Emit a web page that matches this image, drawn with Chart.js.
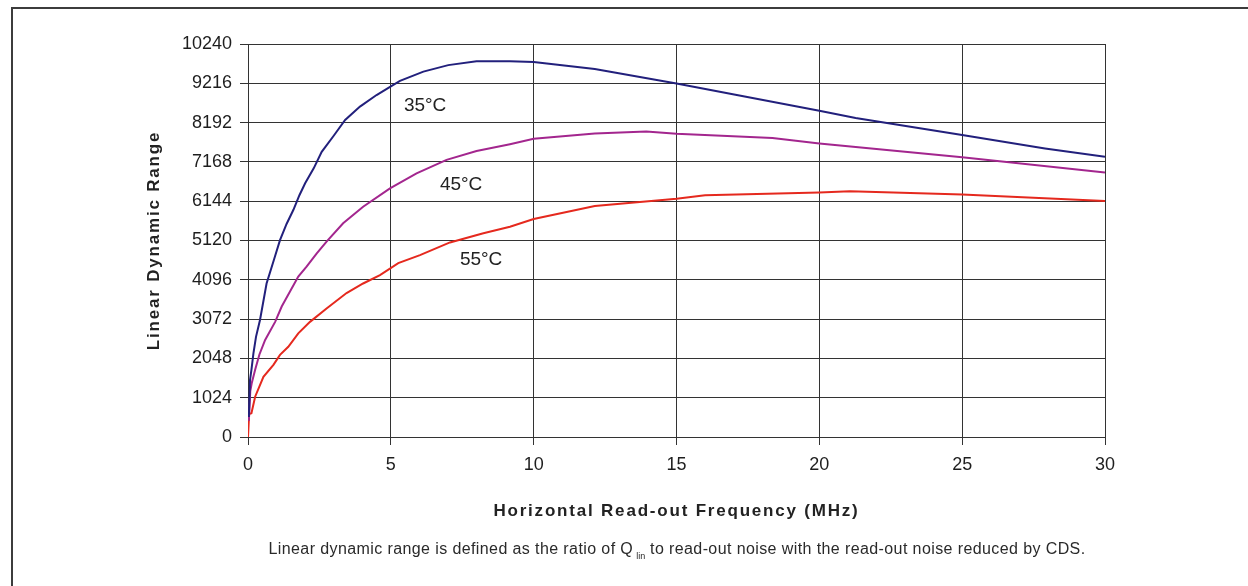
<!DOCTYPE html>
<html>
<head>
<meta charset="utf-8">
<script src="https://cdn.jsdelivr.net/npm/chart.js@4.4.1/dist/chart.umd.min.js"></script>
<style>
  html, body { margin: 0; padding: 0; background: #fff; }
  body { width: 1248px; height: 586px; position: relative; overflow: hidden; font-family: "Liberation Sans", Arial, sans-serif; }
  #frame { position: absolute; left: 11px; top: 7px; width: 1300px; height: 600px; border-top: 2px solid #3c3c3c; border-left: 2px solid #3c3c3c; }
  #wrap { position: absolute; left: 0; top: 0; width: 1248px; height: 586px; }
  #note { position: absolute; left: 677px; top: 541px; transform: translateX(-50%); white-space: nowrap; font-size: 16px; line-height: 16px; letter-spacing: 0.4px; color: #2a2a2a; }
  #note .sub { font-size: 9px; position: relative; top: 5px; margin-left: 3px; letter-spacing: 0; }
</style>
</head>
<body>
<div id="frame"></div>
<div id="wrap"><canvas id="myChart"></canvas></div>
<div id="note">Linear dynamic range is defined as the ratio of Q<span class="sub">lin</span> to read-out noise with the read-out noise reduced by CDS.</div>
<script>
// data
const freq35 = [0.03, 0.07, 0.12, 0.19, 0.28, 0.42, 0.65, 0.9, 1.12, 1.35, 1.59, 1.8, 2.0, 2.3, 2.58, 3.0, 3.4, 3.92, 4.5, 5.03, 5.32, 6.14, 7.01, 8.0, 9.17, 10.0, 12.14, 15, 20, 21.27, 25, 27.9, 30];
const ldr35 = [520, 1480, 1750, 2180, 2610, 3050, 4000, 4600, 5130, 5550, 5920, 6300, 6610, 7000, 7430, 7850, 8260, 8610, 8910, 9150, 9280, 9520, 9690, 9790, 9790, 9770, 9590, 9210, 8500, 8310, 7870, 7520, 7300];

const freq45 = [0.03, 0.08, 0.13, 0.25, 0.4, 0.6, 0.95, 1.18, 1.47, 1.76, 2.05, 2.4, 2.75, 3.33, 4.03, 4.97, 5.9, 6.95, 8.0, 9.17, 10.0, 12.14, 13.94, 15, 18.36, 20, 25, 30];
const ldr45 = [420, 1200, 1400, 1750, 2150, 2530, 3000, 3400, 3790, 4180, 4440, 4780, 5090, 5570, 6000, 6480, 6870, 7220, 7450, 7630, 7770, 7910, 7960, 7900, 7790, 7650, 7290, 6890];

const freq55 = [0, 0.04, 0.12, 0.25, 0.54, 0.89, 1.12, 1.41, 1.76, 2.17, 2.75, 3.45, 4.03, 4.62, 5.26, 6.02, 7.07, 8.24, 9.17, 10.0, 12.14, 15, 16, 20, 21.07, 25, 30];
const ldr55 = [0, 600, 620, 1050, 1570, 1880, 2140, 2350, 2700, 3000, 3350, 3750, 4000, 4220, 4530, 4740, 5070, 5310, 5480, 5680, 6020, 6210, 6300, 6370, 6400, 6320, 6150];

const xTickValues = [0, 5, 10, 15, 20, 25, 30];
const yTickValues = [0, 1024, 2048, 3072, 4096, 5120, 6144, 7168, 8192, 9216, 10240];

const tempLabels = ["35°C", "45°C", "55°C"];
const tempLabelX = [6.2, 7.46, 8.16];
const tempLabelY = [8626, 6567, 4613];

const xTitle = "Horizontal Read-out Frequency (MHz)";
const yTitle = "Linear Dynamic Range";

const FONT = '"Liberation Sans", Arial, sans-serif';

function toPoints(xs, ys) {
  return xs.map((v, i) => ({ x: v, y: ys[i] }));
}

const annotate = {
  id: "annotate",
  afterDraw(chart) {
    const { ctx, chartArea, scales } = chart;
    ctx.save();
    ctx.fillStyle = "#222";
    ctx.textAlign = "center";
    ctx.textBaseline = "middle";
    ctx.font = "19px " + FONT;
    tempLabels.forEach((t, i) => {
      ctx.fillText(t, scales.x.getPixelForValue(tempLabelX[i]), scales.y.getPixelForValue(tempLabelY[i]));
    });
    // axis titles (spaced out like the original)
    ctx.font = "bold 17px " + FONT;
    ctx.letterSpacing = "1.8px";
    ctx.fillText(xTitle, (chartArea.left + chartArea.right) / 2, 511);
    ctx.translate(154, (chartArea.top + chartArea.bottom) / 2);
    ctx.rotate(-Math.PI / 2);
    ctx.fillText(yTitle, 0, 0);
    ctx.restore();
  }
};

const dataset = (label, xs, ys, color) => ({
  label: label,
  data: toPoints(xs, ys),
  borderColor: color,
  backgroundColor: color,
  borderWidth: 2,
  showLine: true,
  pointRadius: 0,
  tension: 0,
  fill: false
});

const chartConfig = {
  type: "scatter",
  data: {
    datasets: [
      dataset("35°C", freq35, ldr35, "#22207c"),
      dataset("45°C", freq45, ldr45, "#a3268e"),
      dataset("55°C", freq55, ldr55, "#e5291e")
    ]
  },
  options: {
    responsive: true,
    maintainAspectRatio: false,
    animation: false,
    layout: { padding: { left: 0, top: 44, right: 143, bottom: 89 } },
    plugins: { legend: { display: false }, tooltip: { enabled: false } },
    scales: {
      x: {
        type: "linear",
        min: 0,
        max: 30,
        afterBuildTicks: (s) => { s.ticks = xTickValues.map(v => ({ value: v })); },
        afterFit: (s) => { s.height = 60; },
        grid: { color: "#333", lineWidth: 1, tickLength: 8 },
        border: { color: "#333", width: 1 },
        ticks: { color: "#1e1e1e", font: { family: FONT, size: 18 }, padding: 9, callback: v => v }
      },
      y: {
        min: 0,
        max: 10240,
        afterBuildTicks: (s) => { s.ticks = yTickValues.map(v => ({ value: v })); },
        afterFit: (s) => { s.width = 248; },
        grid: { color: "#333", lineWidth: 1, tickLength: 8 },
        border: { color: "#333", width: 1 },
        ticks: { color: "#1e1e1e", font: { family: FONT, size: 18 }, padding: 8, callback: v => v }
      }
    }
  },
  plugins: [annotate]
};

new Chart(document.getElementById("myChart"), chartConfig);
</script>
</body>
</html>
